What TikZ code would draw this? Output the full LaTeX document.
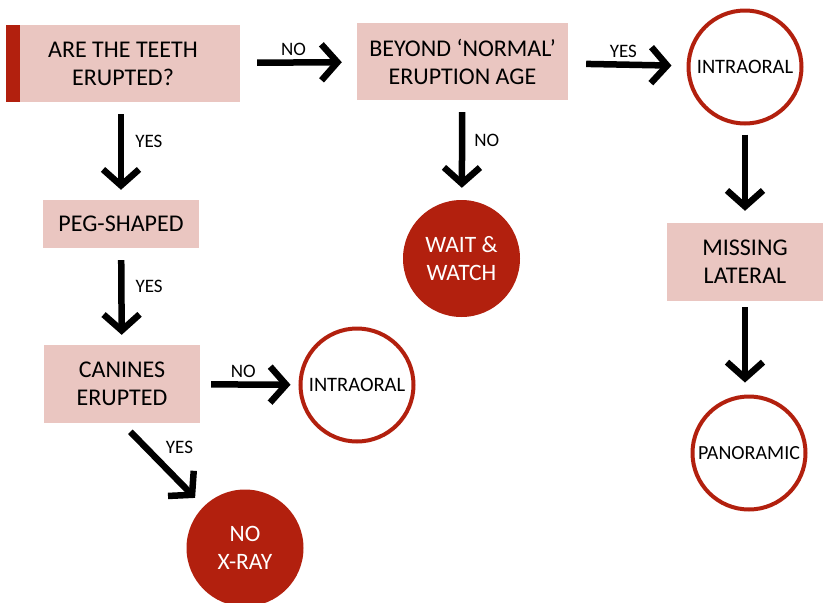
\documentclass[tikz,border=0pt]{standalone}
\usepackage{fontspec}
\setmainfont{Carlito}
\usepackage{tikz}
\usetikzlibrary{arrows.meta}
\definecolor{boxpink}{RGB}{234,198,193}
\definecolor{toothred}{RGB}{178,32,14}
\tikzset{
question/.style={
  rectangle, fill=boxpink, align=center, inner sep=0pt,
  font=\fontsize{24}{28}\selectfont
},
outcome/.style={
  circle, draw=toothred, line width=4pt, fill=white,
  minimum size=113pt, inner sep=0pt, align=center,
  font=\fontsize{20.5}{24}\selectfont
},
stopnode/.style={
  circle, fill=toothred, text=white, minimum size=117pt,
  inner sep=0pt, align=center,
  font=\fontsize{23.5}{28}\selectfont
},
flow/.style={
  line width=6.5pt, shorten <=12pt, shorten >=12pt,
  -{Straight Barb[length=16pt,width=36pt]}
},
answer/.style={font=\fontsize{19}{22}\selectfont, inner sep=4pt},
}

\begin{document}
\begin{tikzpicture}[x=1pt,y=-1pt]
\useasboundingbox (0,0) rectangle (823,603);
% the questions
\node[question, minimum width=234pt, minimum height=77pt] (erupted) at (123,63.5)
  {ARE THE TEETH\\ERUPTED?};
\fill[toothred] (erupted.north west) rectangle ([xshift=14pt]erupted.south west);
\node[question, minimum width=211pt, minimum height=77pt] (beyond) at (462.5,61.5)
  {BEYOND `NORMAL'\\ERUPTION AGE};
\node[question, minimum width=156pt, minimum height=48pt] (peg) at (121,224)
  {PEG-SHAPED};
\node[question, minimum width=156pt, minimum height=78pt] (canines) at (122,384)
  {CANINES\\ERUPTED};
\node[question, minimum width=156pt, minimum height=78pt] (missing) at (745,262)
  {MISSING\\LATERAL};
% the outcomes
\node[outcome] (intraA) at (745,67) {INTRAORAL};
\node[outcome] (intraB) at (357,385) {INTRAORAL};
\node[outcome, font=\fontsize{20}{24}\selectfont] (pano) at (749,453) {PANORAMIC};
\node[stopnode] (wait) at (461.5,258.5) {WAIT \&\\WATCH};
\node[stopnode] (noxray) at (245,548) {NO\\X-RAY};
% the arrows
\draw[flow, shorten <=17pt, shorten >=15pt] (erupted) -- node[answer, above, xshift=-5pt] {NO} (beyond);
\draw[flow, shorten <=18pt, shorten >=15pt] (beyond) -- node[answer, above, xshift=-4pt] {YES} (intraA);
\draw[flow, shorten >=10pt] (erupted.south -| peg) -- node[answer, right, pos=0.4, xshift=7pt] {YES} (peg);
\draw[flow, shorten >=10pt] (peg) -- node[answer, right, pos=0.4, xshift=7pt] {YES} (canines);
\draw[flow, shorten <=11pt, shorten >=8pt] (canines) -- node[answer, above, xshift=-6pt] {NO} (intraB);
\draw[flow] (canines.south) -- node[answer, above right, pos=0.45] {YES} (noxray.135);
\draw[flow] (beyond) -- node[answer, right, pos=0.4, xshift=5pt] {NO} (wait);
\draw[flow, shorten <=9pt] (intraA) -- (missing);
\draw[flow, shorten <=6pt] (missing.south) -- (missing.south |- pano.north);
\end{tikzpicture}
\end{document}
